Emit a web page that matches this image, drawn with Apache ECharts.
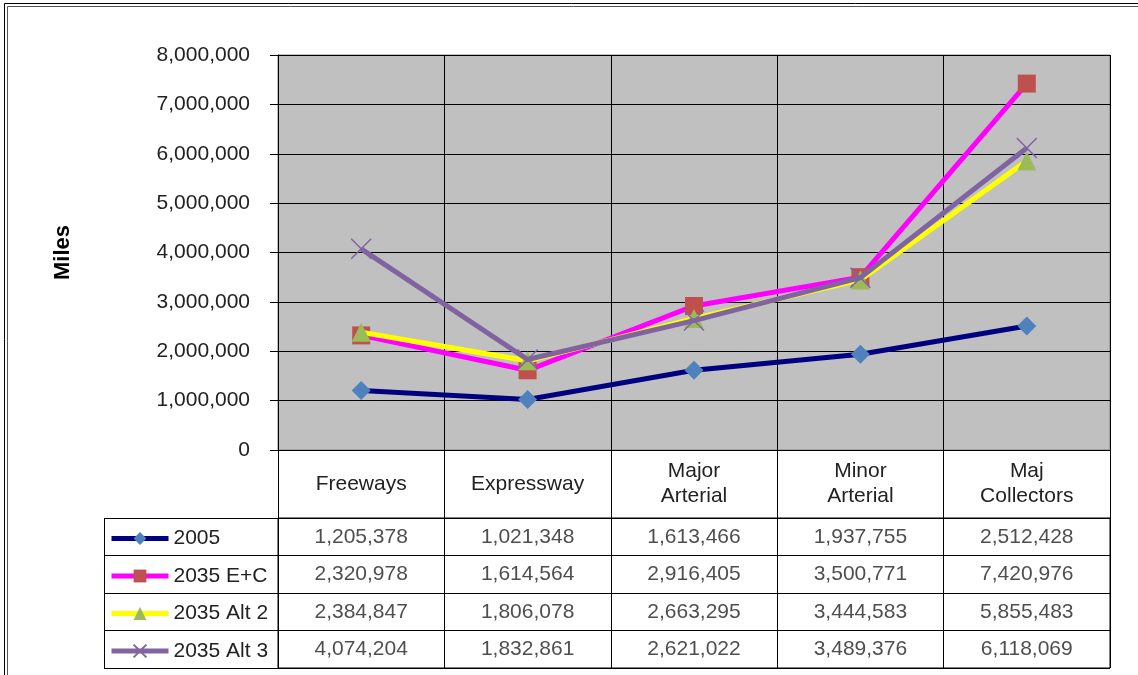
<!DOCTYPE html>
<html>
<head>
<meta charset="utf-8">
<script src="https://cdn.jsdelivr.net/npm/echarts@6/dist/echarts.min.js"></script>
<style>
  html, body { margin: 0; padding: 0; background: #fff; }
  #chart { width: 1138px; height: 675px; }
</style>
</head>
<body>
<div id="chart"></div>
<script>
// road classes (table header / x categories)
const categories = ['Freeways', 'Expressway', 'Major\nArterial', 'Minor\nArterial', 'Maj\nCollectors']
const seriesNames = ['2005', '2035 E+C', '2035 Alt 2', '2035 Alt 3']
const v2005 = [1205378, 1021348, 1613466, 1937755, 2512428]
const vEC = [2320978, 1614564, 2916405, 3500771, 7420976]
const vAlt2 = [2384847, 1806078, 2663295, 3444583, 5855483]
const vAlt3 = [4074204, 1832861, 2621022, 3489376, 6118069]
const allValues = [v2005, vEC, vAlt2, vAlt3]

const FONT = 'Liberation Sans, Arial, sans-serif'
const TXT = '#222'
const fmt = v => Number(v).toLocaleString('en-US')

// look of each series
const looks = [
  { line: '#000080', symbol: 'diamond', size: 19, item: { color: '#4F81BD' } },
  { line: '#FF00FF', symbol: 'rect', size: 18, item: { color: '#C0504D' } },
  { line: '#FFFF00', symbol: 'triangle', size: 19, item: { color: '#9BBB59' } },
  { line: '#8064A2', symbol: 'path://M0,0L10,10M10,0L0,10', size: 20,
    item: { color: 'none', borderColor: '#8064A2', borderWidth: 1.5 } }
]

const lineSeries = seriesNames.map((name, i) => ({
  name: name,
  type: 'line',
  xAxisIndex: 0,
  yAxisIndex: 0,
  data: allValues[i],
  smooth: false,
  symbol: looks[i].symbol,
  symbolSize: looks[i].size,
  showAllSymbol: true,
  lineStyle: { color: looks[i].line, width: 5, join: 'miter' },
  itemStyle: looks[i].item,
  color: looks[i].line,
  emphasis: { disabled: true },
  z: 3 + i
}))

// table cells: [column, row, value]
const cells = []
allValues.forEach((arr, r) => {
  arr.forEach((v, c) => cells.push([c, seriesNames[r], v]))
})

const chart = echarts.init(document.getElementById('chart'))
chart.setOption({
  animation: false,
  textStyle: { fontFamily: FONT },
  grid: [
    { left: 278, right: 28, top: 55, height: 395, show: true,
      backgroundColor: '#C0C0C0', borderColor: '#808080', borderWidth: 1 },
    { left: 278, right: 28, top: 518, height: 150, show: true,
      backgroundColor: 'transparent', borderColor: '#000', borderWidth: 1 }
  ],
  legend: {
    data: seriesNames,
    orient: 'vertical',
    left: 109,
    top: 528,
    height: 200,
    padding: 0,
    itemWidth: 57,
    itemHeight: 16,
    itemGap: 16.5,
    lineStyle: { width: 5 },
    textStyle: { fontSize: 21, color: TXT, fontFamily: FONT, padding: [3, 0, 0, 0] },
    selectedMode: false
  },
  xAxis: [
    {
      gridIndex: 0,
      type: 'category',
      data: categories,
      boundaryGap: true,
      axisLine: { show: true, lineStyle: { color: '#000', width: 1 } },
      axisTick: { show: true, length: 68, lineStyle: { color: '#000' } },
      axisLabel: { fontSize: 21, color: TXT, margin: 34, verticalAlign: 'middle',
        lineHeight: 25, interval: 0 },
      splitLine: { show: true, lineStyle: { color: '#000', width: 1 } }
    },
    {
      gridIndex: 1,
      type: 'category',
      data: categories,
      boundaryGap: true,
      position: 'top',
      axisLine: { show: false },
      axisTick: { show: false },
      axisLabel: { show: false },
      splitLine: { show: true, lineStyle: { color: '#000', width: 1 } }
    }
  ],
  yAxis: [
    {
      gridIndex: 0,
      type: 'value',
      min: 0,
      max: 8000000,
      interval: 1000000,
      name: 'Miles',
      nameLocation: 'middle',
      nameRotate: 90,
      nameGap: 204,
      nameTextStyle: { fontSize: 22, fontWeight: 'bold', color: '#000' },
      axisLine: { show: true, lineStyle: { color: '#000' } },
      axisTick: { show: true, length: 8, lineStyle: { color: '#000' } },
      axisLabel: { fontSize: 21, color: TXT, margin: 28, formatter: v => fmt(v) },
      splitLine: { show: true, lineStyle: { color: '#000', width: 1 } }
    },
    {
      gridIndex: 1,
      type: 'category',
      data: seriesNames,
      inverse: true,
      axisLine: { show: false },
      axisTick: { show: true, length: 174, lineStyle: { color: '#000' } },
      axisLabel: { show: false },
      splitLine: { show: true, lineStyle: { color: '#000', width: 1 } }
    }
  ],
  graphic: [
    { type: 'line', shape: { x1: 104.5, y1: 518, x2: 104.5, y2: 668 },
      style: { stroke: '#000', lineWidth: 1 } },
    { type: 'rect', shape: { x: 4.5, y: 3.5, width: 1200, height: 800 },
      style: { fill: 'none', stroke: '#000', lineWidth: 1 } },
    { type: 'rect', shape: { x: 7.5, y: 6.5, width: 1200, height: 800 },
      style: { fill: 'none', stroke: '#555', lineWidth: 1 } }
  ],
  series: lineSeries.concat([
    {
      name: 'table',
      type: 'scatter',
      xAxisIndex: 1,
      yAxisIndex: 1,
      data: cells,
      symbolSize: 0,
      silent: true,
      label: {
        show: true,
        position: 'inside',
        fontSize: 21,
        color: TXT,
        formatter: p => fmt(p.value[2])
      }
    }
  ])
})
</script>
</body>
</html>
